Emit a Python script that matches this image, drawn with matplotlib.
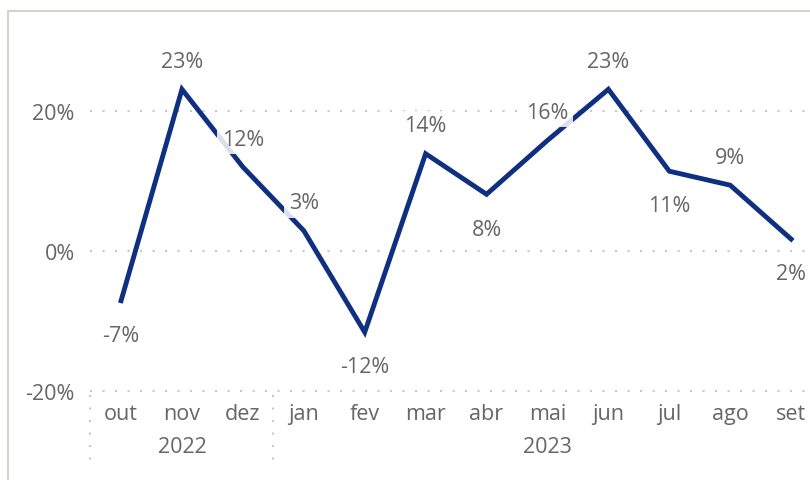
import matplotlib.pyplot as plt
from matplotlib.patches import Rectangle
import matplotlib.transforms as mtransforms

plt.rcParams['font.family'] = ['Open Sans', 'DejaVu Sans']

# data
months = ['out', 'nov', 'dez', 'jan', 'fev', 'mar', 'abr', 'mai', 'jun', 'jul', 'ago', 'set']
values = [-7.1, 23.1, 12.0, 2.9, -11.6, 13.9, 8.1, 15.8, 23.1, 11.4, 9.4, 1.7]
label_side = ['below', 'above', 'above', 'above', 'below', 'above',
              'below', 'above', 'above', 'below', 'above', 'below']
years = ['2022', '2023']
year_centers = [1, 7]
year_splits = [-0.51, 2.5]
yticks = [-20, 0, 20]

W, H = 810, 481
fig = plt.figure(figsize=(W / 100, H / 100), dpi=100)

# outer frame (left and top edge visible)
fig.add_artist(Rectangle((8 / W, -0.1), 1.2, 1 - 12 / H + 0.1,
                         transform=fig.transFigure, fill=False,
                         edgecolor='#d6d3ce', linewidth=1.5))

left, right = 90, 810
bottom, top = 395.5, 14
ax = fig.add_axes([left / W, 1 - bottom / H, (right - left) / W, (bottom - top) / H])

line_col = '#0f2f80'
text_col = '#666666'
fs = 15.5

x = list(range(len(months)))
ax.plot(x, values, color=line_col, linewidth=3.5, solid_joinstyle='miter', zorder=3)

for xi, v, side in zip(x, values, label_side):
    off = 20 if side == 'above' else -25
    ax.annotate(f'{round(v):.0f}%', (xi, v), xytext=(0, off), textcoords='offset points',
                ha='center', va='center', fontsize=fs, color=text_col, zorder=4,
                bbox=dict(boxstyle='square,pad=0.2', facecolor='white',
                          edgecolor='none', alpha=0.85))

ax.set_xlim(-0.51, 11.31)
ax.set_ylim(-20.5, 34)

for t in yticks:
    ax.axhline(t, color='#c8c8c8', linewidth=1.5, linestyle=(0, (1, 5)), zorder=1)

ax.set_yticks(yticks)
ax.set_yticklabels([f'{t}%' for t in yticks], fontsize=fs, color=text_col)
ax.tick_params(axis='y', length=0, pad=11)

ax.set_xticks(x)
ax.set_xticklabels(months, fontsize=fs, color=text_col)
ax.tick_params(axis='x', length=0, pad=6)

for s in ax.spines.values():
    s.set_visible(False)

trans = mtransforms.blended_transform_factory(ax.transData, ax.transAxes)
ax_h = bottom - top
for yr, c in zip(years, year_centers):
    ax.text(c, -(448 - bottom) / ax_h, yr, transform=trans, ha='center', va='center',
            fontsize=fs, color=text_col)
for s in year_splits:
    ax.plot([s, s], [0, -(470 - bottom) / ax_h], transform=trans, clip_on=False,
            color='#c8c8c8', linewidth=1.5, linestyle=(0, (1, 5)))

fig.savefig('out.png', dpi=100)
